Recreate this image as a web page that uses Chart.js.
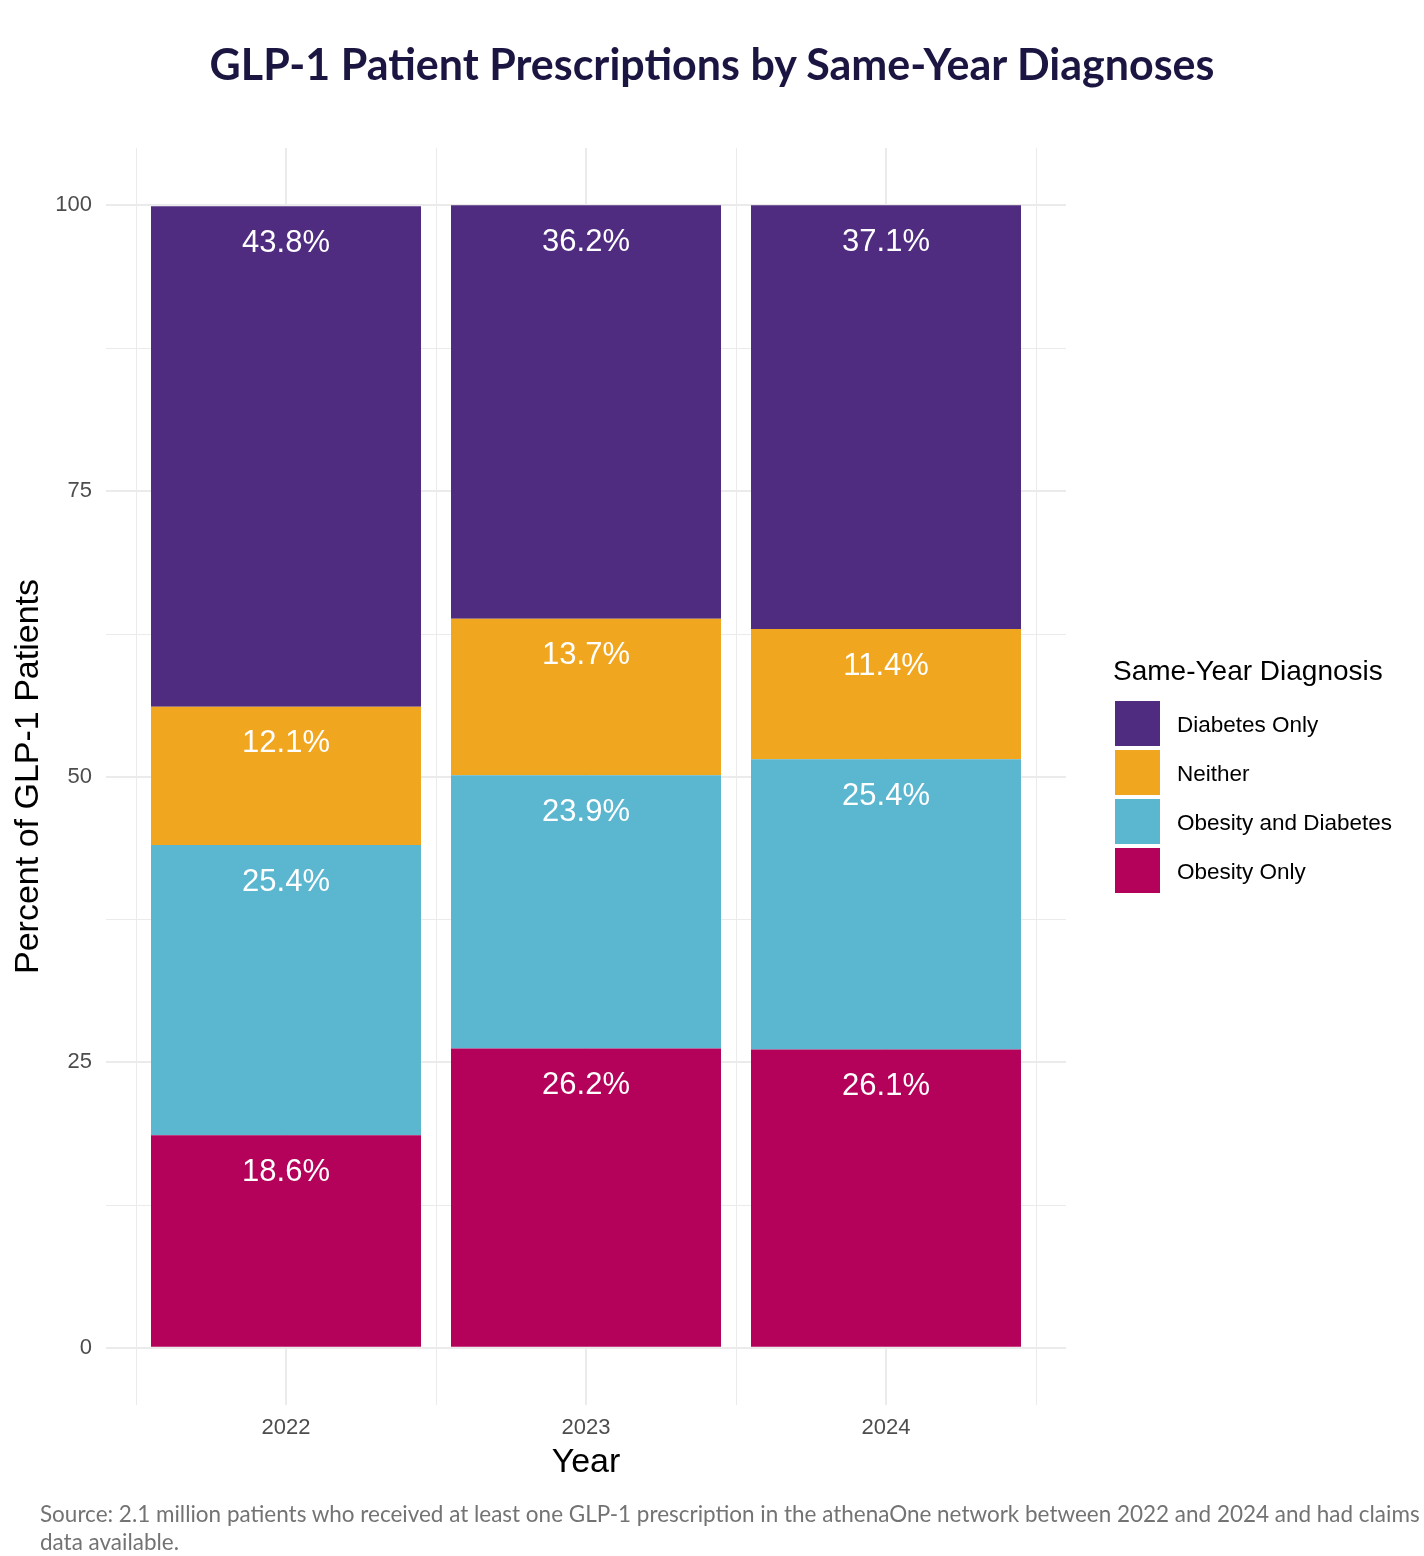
<!DOCTYPE html>
<html>
<head>
<meta charset="utf-8">
<script src="https://cdn.jsdelivr.net/npm/chart.js@4.4.1/dist/chart.umd.min.js"></script>
<style>
  html, body { margin: 0; padding: 0; background: #ffffff; }
  #wrap { position: relative; width: 1424px; height: 1556px; overflow: hidden; background: #fff; }
  #chart { position: absolute; left: 0; top: 0; }
  #title { position: absolute; left: 0; width: 1424px; top: 34px; height: 60px; line-height: 60px;
           text-align: center; font-family: Lato, "Noto Sans", sans-serif; font-weight: 700;
           font-size: 42px; color: #1B1641; white-space: nowrap; }
  #title span { display: inline-block; }
  #caption { position: absolute; left: 40px; top: 1500px; font-family: Lato, "Noto Sans", sans-serif;
             font-size: 22px; line-height: 28px; color: #737373; white-space: nowrap; }
  #caption span { display: inline-block; }
</style>
</head>
<body>
<div id="wrap">
  <canvas id="chart" width="1424" height="1556"></canvas>
  <div id="title"><span id="titleText">GLP-1 Patient Prescriptions by Same-Year Diagnoses</span></div>
  <div id="caption"><span id="cap1">Source: 2.1 million patients who received at least one GLP-1 prescription in the athenaOne network between 2022 and 2024 and had claims</span><br><span id="cap2">data available.</span></div>
</div>
<script>
// ---- data ----
const years = ['2022', '2023', '2024'];
const obesityOnly = [18.6, 26.2, 26.1];
const obesityAndDiabetes = [25.4, 23.9, 25.4];
const neither = [12.1, 13.7, 11.4];
const diabetesOnly = [43.8, 36.2, 37.1];
const seriesLabels = ['Obesity Only', 'Obesity and Diabetes', 'Neither', 'Diabetes Only'];
const seriesColors = ['#B4025A', '#5BB6CF', '#F1A61F', '#4F2C80'];
const yMajorTicks = [0, 25, 50, 75, 100];
const yMinorTicks = [12.5, 37.5, 62.5, 87.5];
const legendTitle = 'Same-Year Diagnosis';
const xTitle = 'Year';
const yTitle = 'Percent of GLP-1 Patients';

// ---- fit title / caption widths ----
function fitWidth(el, target) {
  const w = el.getBoundingClientRect().width;
  const fs = parseFloat(getComputedStyle(el).fontSize);
  return fs * target / w;
}
(function () {
  const t = document.getElementById('titleText');
  document.getElementById('title').style.fontSize = fitWidth(t, 1005).toFixed(2) + 'px';
  const c1 = document.getElementById('cap1');
  document.getElementById('caption').style.fontSize = fitWidth(c1, 1380).toFixed(2) + 'px';
})();

// ---- chart ----
Chart.defaults.font.family = '"Liberation Sans", Arial, Helvetica, sans-serif';
const GRID = '#EBEBEB';
const allSeries = [obesityOnly, obesityAndDiabetes, neither, diabetesOnly];

const datasets = allSeries.map((vals, k) => ({
  label: seriesLabels[k],
  data: vals.map((v, i) => ({ x: i + 1, y: v })),
  backgroundColor: seriesColors[k],
  borderWidth: 0,
  categoryPercentage: 0.9,
  barPercentage: 1.0
}));

const minorGrid = {
  id: 'minorGrid',
  beforeDatasetsDraw(chart) {
    const { ctx, chartArea: a, scales: { x, y } } = chart;
    ctx.save();
    ctx.strokeStyle = GRID;
    ctx.lineWidth = 1;
    yMinorTicks.forEach(v => {
      const py = Math.round(y.getPixelForValue(v)) + 0.5;
      ctx.beginPath(); ctx.moveTo(a.left, py); ctx.lineTo(a.right, py); ctx.stroke();
    });
    for (let i = 0; i <= years.length; i++) {
      const px = Math.round(x.getPixelForValue(i + 0.5)) + 0.5;
      ctx.beginPath(); ctx.moveTo(px, a.top); ctx.lineTo(px, a.bottom); ctx.stroke();
    }
    ctx.restore();
  }
};

const barLabels = {
  id: 'barLabels',
  afterDatasetsDraw(chart) {
    const ctx = chart.ctx;
    ctx.save();
    ctx.font = '31px "Liberation Sans", Arial, sans-serif';
    ctx.fillStyle = '#ffffff';
    ctx.textAlign = 'center';
    ctx.textBaseline = 'alphabetic';
    chart.data.datasets.forEach((ds, di) => {
      const meta = chart.getDatasetMeta(di);
      meta.data.forEach((el, i) => {
        const v = allSeries[di][i];
        ctx.fillText(v.toFixed(1) + '%', el.x, el.y + 45.5);
      });
    });
    ctx.restore();
  }
};

const ggLegend = {
  id: 'ggLegend',
  afterDraw(chart) {
    const ctx = chart.ctx;
    const x0 = chart.chartArea.right + 47;
    ctx.save();
    ctx.textAlign = 'left';
    ctx.textBaseline = 'alphabetic';
    ctx.fillStyle = '#000000';
    ctx.font = '28px "Liberation Sans", Arial, sans-serif';
    ctx.fillText(legendTitle, x0, 680);
    const items = chart.data.datasets.slice().reverse();
    items.forEach((ds, i) => {
      const top = 701 + i * 49;
      ctx.fillStyle = ds.backgroundColor;
      ctx.fillRect(x0 + 2, top, 45, 45);
      ctx.fillStyle = '#000000';
      ctx.font = '22.5px "Liberation Sans", Arial, sans-serif';
      ctx.fillText(ds.label, x0 + 64, top + 31);
    });
    ctx.restore();
  }
};

new Chart(document.getElementById('chart'), {
  type: 'bar',
  data: { datasets },
  options: {
    responsive: false,
    animation: false,
    layout: { padding: { top: 148, right: 358, bottom: 72, left: 0 } },
    plugins: {
      legend: { display: false },
      tooltip: { enabled: false },
      title: { display: false }
    },
    scales: {
      x: {
        type: 'linear',
        stacked: true,
        min: 0.4,
        max: 3.6,
        offset: false,
        afterBuildTicks: s => { s.ticks = years.map((_, i) => ({ value: i + 1 })); },
        afterFit: s => { s.height = 79; },
        grid: { color: GRID, lineWidth: 2, drawTicks: false, offset: false },
        border: { display: false },
        ticks: {
          autoSkip: false, maxRotation: 0, padding: 10,
          color: '#4D4D4D', font: { size: 22 },
          callback: v => years[Math.round(v) - 1]
        },
        title: { display: true, text: xTitle, color: '#000000', font: { size: 34 }, padding: { top: 0, bottom: 1 } }
      },
      y: {
        type: 'linear',
        stacked: true,
        min: -5,
        max: 105,
        afterBuildTicks: s => { s.ticks = yMajorTicks.map(v => ({ value: v })); },
        afterFit: s => { s.width = 106; },
        grid: { color: GRID, lineWidth: 2, drawTicks: false },
        border: { display: false },
        ticks: { padding: 14, color: '#4D4D4D', font: { size: 22 }, callback: v => String(v) },
        title: { display: true, text: yTitle, color: '#000000', font: { size: 34 }, padding: { top: 8, bottom: 0 } }
      }
    }
  },
  plugins: [minorGrid, barLabels, ggLegend]
});
</script>
</body>
</html>
